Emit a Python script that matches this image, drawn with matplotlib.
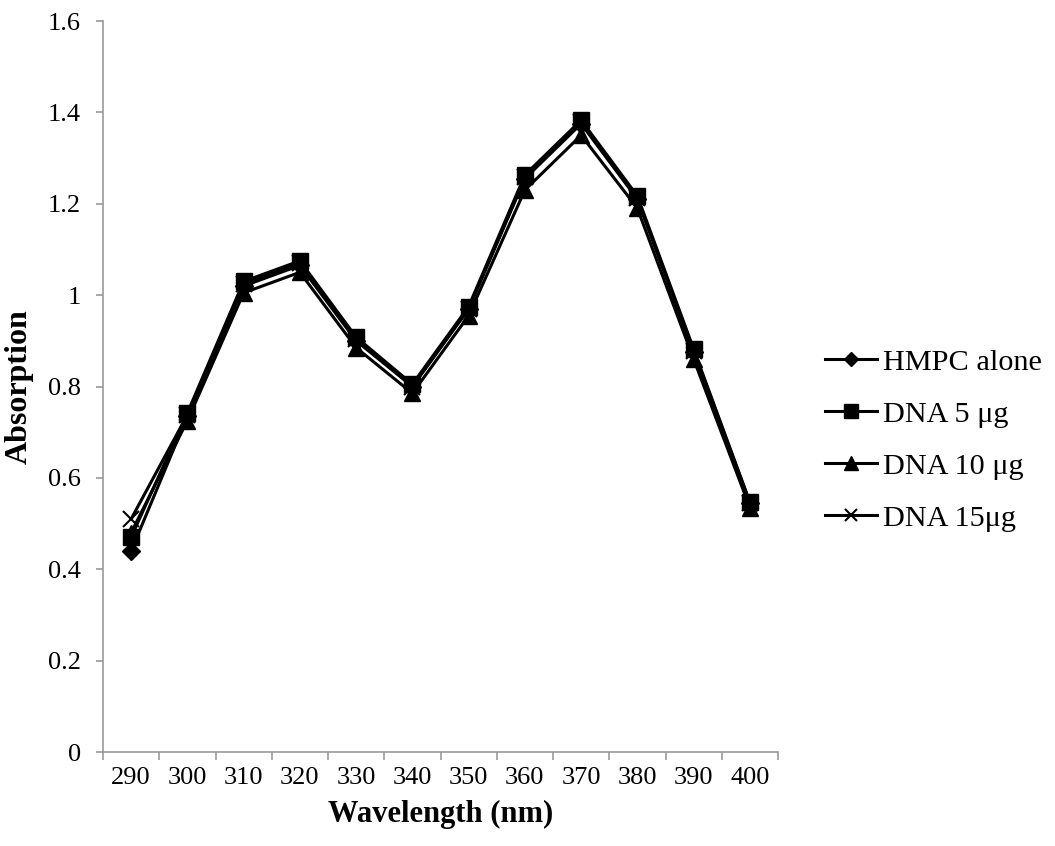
import matplotlib
matplotlib.use("Agg")
import matplotlib.pyplot as plt
import numpy as np

wavelengths = ["290", "300", "310", "320", "330", "340", "350", "360", "370", "380", "390", "400"]
hmpc_alone = [0.44, 0.735, 1.02, 1.065, 0.90, 0.80, 0.97, 1.255, 1.375, 1.21, 0.875, 0.545]
dna_5 = [0.47, 0.742, 1.03, 1.075, 0.908, 0.805, 0.975, 1.263, 1.383, 1.217, 0.882, 0.547]
dna_10 = [0.48, 0.725, 1.005, 1.05, 0.885, 0.785, 0.955, 1.23, 1.35, 1.19, 0.86, 0.535]
dna_15 = [0.51, 0.738, 1.025, 1.07, 0.905, 0.80, 0.97, 1.258, 1.378, 1.213, 0.878, 0.545]
series_labels = ["HMPC alone", "DNA 5 μg", "DNA 10 μg", "DNA 15μg"]

plt.rcParams['font.family'] = ['Liberation Serif', 'DejaVu Serif']

fig = plt.figure(figsize=(10.55, 8.46), dpi=100)
ax = fig.add_axes([103/1055, (846-752)/846, (778-103)/1055, (752-21)/846])

x = np.arange(len(wavelengths))
styles = [dict(marker='D', markersize=9), dict(marker='s', markersize=12),
          dict(marker='^', markersize=12), dict(marker='x', markersize=11, markeredgewidth=1.5)]
for vals, lab, st in zip([hmpc_alone, dna_5, dna_10, dna_15], series_labels, styles):
    ax.plot(x, vals, color='black', linewidth=2.2, label=lab, **st)

ax.set_xlim(-0.5, len(wavelengths) - 0.5)
ax.set_ylim(0, 1.6)
ax.set_yticks(np.arange(0, 1.61, 0.2))
ax.set_yticklabels(["0", "0.2", "0.4", "0.6", "0.8", "1", "1.2", "1.4", "1.6"])
ax.set_xticks(x)
ax.set_xticklabels(wavelengths)
ax.set_xticks(np.arange(-0.5, len(wavelengths), 1), minor=True)
ax.tick_params(axis='x', which='major', length=0, labelsize=19, pad=11)
ax.tick_params(axis='x', which='minor', length=6, color='#999999', width=1.2)
ax.tick_params(axis='y', length=5, color='#999999', width=1.2, labelsize=19, pad=11)

for s in ['top', 'right']:
    ax.spines[s].set_visible(False)
for s in ['left', 'bottom']:
    ax.spines[s].set_color('#999999')
    ax.spines[s].set_linewidth(1.2)

ax.set_xlabel("Wavelength (nm)", fontsize=22, fontweight='bold', labelpad=8)
ax.set_ylabel("Absorption", fontsize=23, fontweight='bold', labelpad=10)

fig.legend(loc='center left', bbox_to_anchor=(798/1055, 1 - 440/846), frameon=False,
           fontsize=21.8, handlelength=1.7, handletextpad=0.22, labelspacing=0.82,
           markerscale=0.8)

fig.savefig("out.png", dpi=100)
